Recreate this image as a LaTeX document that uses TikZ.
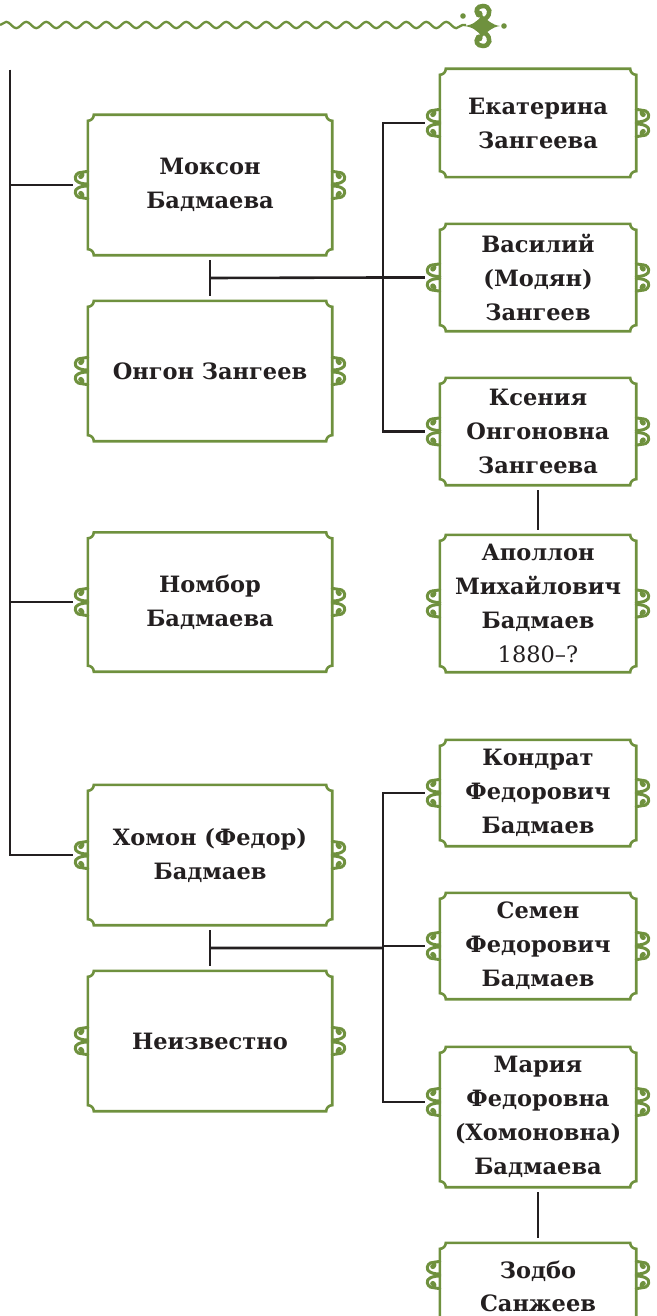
\documentclass[tikz,border=0pt]{standalone}
\usepackage{fontspec}
\setmainfont{DejaVu Serif}
\usetikzlibrary{decorations.pathmorphing,calc}
\definecolor{leaf}{RGB}{111,145,62}
\definecolor{ink}{RGB}{35,31,32}

\tikzset{
  person/.style={align=center, text=ink, inner sep=0pt,
    font=\bfseries\fontsize{22.5}{34}\selectfont},
  leftbox/.style={person, minimum width=244pt, minimum height=140pt},
  rightbox/.style={person, minimum width=196pt},
  frame/.style={draw=leaf, line width=2.6pt},
  link/.style={draw=ink, line width=2.6pt},
  curl/.style={draw=leaf, line width=3pt, line cap=round},
  scroll/.pic={
    \foreach \s in {1,-1}{
      \begin{scope}[yscale=\s]
        \draw[curl] (0,1pt) .. controls (-5pt,1pt) and (-10pt,2pt) .. (-12pt,5pt)
          .. controls (-14pt,9pt) and (-10pt,13pt) .. (-7pt,12.5pt)
          .. controls (-4pt,12pt) and (-4.5pt,8pt) .. (-7pt,8pt);
        \fill[leaf] (-7pt,8.5pt) circle (2.6pt);
        \draw[curl] (-7pt,12.5pt) .. controls (-4pt,13pt) and (-2pt,13.5pt) .. (0,13.5pt);
      \end{scope}}
  }
}

% notched frame around a person node
\newcommand\famframe[1]{%
  \draw[frame] ([xshift=6pt]#1.north west) -- ([xshift=-6pt]#1.north east)
    arc[start angle=180,end angle=270,radius=6pt]
    -- ([yshift=6pt]#1.south east)
    arc[start angle=90,end angle=180,radius=6pt]
    -- ([xshift=6pt]#1.south west)
    arc[start angle=0,end angle=90,radius=6pt]
    -- ([yshift=-6pt]#1.north west)
    arc[start angle=270,end angle=360,radius=6pt] -- cycle;}

% side scrolls, plus the points where links attach
\newcommand\famscrolls[2]{%
  \pic at ([yshift=#2]#1.west) {scroll};
  \pic[xscale=-1] at ([yshift=#2]#1.east) {scroll};
  \coordinate (#1-w) at ([xshift=-15pt,yshift=#2]#1.west);
  \coordinate (#1-e) at ([xshift=15pt,yshift=#2]#1.east);}

\begin{document}
\begin{tikzpicture}
\useasboundingbox (0,0) rectangle (656pt,-1316pt);

% header rule with ornament
\draw[leaf, line width=2.3pt, decorate,
  decoration={snake, segment length=20pt, amplitude=3.2pt}]
  (0,-25pt) -- (466pt,-25pt);
\fill[leaf] (464pt,-26pt) .. controls (473pt,-25pt) and (478pt,-21pt) .. (482pt,-15pt)
  .. controls (487pt,-20pt) and (492pt,-25pt) .. (500pt,-26pt)
  .. controls (492pt,-27pt) and (487pt,-32pt) .. (482pt,-37pt)
  .. controls (478pt,-31pt) and (473pt,-27pt) .. cycle;
\fill[leaf] (482pt,-26pt) ellipse (9pt and 6pt);
\draw[leaf, line width=4.5pt] (485pt,-19pt) .. controls (492pt,-14pt) and (490pt,-6pt) .. (483pt,-6pt)
  .. controls (477pt,-6pt) and (475pt,-11pt) .. (478pt,-14pt);
\fill[leaf] (479pt,-14pt) circle (3.6pt);
\draw[leaf, line width=4.5pt] (485pt,-33pt) .. controls (492pt,-38pt) and (490pt,-46pt) .. (483pt,-46pt)
  .. controls (477pt,-46pt) and (475pt,-41pt) .. (478pt,-38pt);
\fill[leaf] (479pt,-38pt) circle (3.6pt);
\fill[leaf] (463pt,-16pt) circle (2.8pt);
\fill[leaf] (504pt,-26pt) circle (2.8pt);

% left column
\node[leftbox] (mokson) at (210pt,-185pt) {Моксон\\Бадмаева};
\node[leftbox] (ongon) at (210pt,-371pt) {Онгон Зангеев};
\node[leftbox, minimum height=139pt] (nombor) at (210pt,-602pt) {Номбор\\Бадмаева};
\node[leftbox] (khomon) at (210pt,-855pt) {Хомон (Федор)\\Бадмаев};
\node[leftbox] (unknown) at (210pt,-1041pt) {Неизвестно};

% right column
\node[rightbox, minimum height=108pt] (ekat) at (538pt,-123pt) {Екатерина\\Зангеева};
\node[rightbox, minimum height=107pt] (vas) at (538pt,-277.5pt) {Василий\\(Модян)\\Зангеев};
\node[rightbox, minimum height=107pt] (ksen) at (538pt,-431.5pt) {Ксения\\Онгоновна\\Зангеева};
\node[rightbox, minimum height=137pt] (apol) at (538pt,-603.5pt) {Аполлон\\Михайлович\\Бадмаев\\{\mdseries 1880–?}};
\node[rightbox, minimum height=106pt] (kond) at (538pt,-793pt) {Кондрат\\Федорович\\Бадмаев};
\node[rightbox, minimum height=106pt] (sem) at (538pt,-946pt) {Семен\\Федорович\\Бадмаев};
\node[rightbox, minimum height=140pt] (maria) at (538pt,-1117pt) {Мария\\Федоровна\\(Хомоновна)\\Бадмаева};
\node[rightbox, minimum height=86pt, font=\bfseries\fontsize{22.5}{33}\selectfont] (zodbo) at (538pt,-1286pt) {Зодбо\\Санжеев};

\foreach \n in {mokson,ongon,nombor,khomon,unknown,ekat,vas,ksen,apol,kond,sem,maria,zodbo}
  {\famframe{\n}}
\foreach \n/\d in {mokson/0pt,ongon/0pt,nombor/0pt,khomon/0pt,unknown/0pt,
  ekat/0pt,vas/0pt,ksen/0pt,apol/0pt,kond/0pt,sem/0pt,maria/15pt,zodbo/11pt}
  {\famscrolls{\n}{\d}}

% trunk on the left
\coordinate (trunk) at (10pt,-70pt);
\draw[link] (trunk) |- (mokson-w);
\draw[link] (trunk) |- (nombor-w);
\draw[link] (trunk) |- (khomon-w);

% first couple and their children
\draw[link] ([yshift=-5pt]mokson.south) -- ([yshift=5pt]ongon.north);
\coordinate (pair1) at ($(mokson.south)!.5!(ongon.north)$);
\coordinate (fork1) at (383pt,-277.5pt);
\draw[link] (pair1) -- (fork1) -- (vas-w);
\draw[link] (ekat-w) -| (fork1);
\draw[link] (ksen-w) -| (fork1);
\draw[link] ([yshift=-5pt]ksen.south) -- ([yshift=5pt]apol.north);

% second couple and their children
\draw[link] ([yshift=-5pt]khomon.south) -- ([yshift=5pt]unknown.north);
\coordinate (pair2) at ($(khomon.south)!.5!(unknown.north)$);
\coordinate (fork2) at (383pt,-948pt);
\draw[link] (pair2) -- (fork2);
\draw[link] (sem-w) -| (fork2);
\draw[link] (kond-w) -| (fork2);
\draw[link] (maria-w) -| (fork2);
\draw[link] ([yshift=-5pt]maria.south) -- ([yshift=5pt]zodbo.north);
\end{tikzpicture}
\end{document}
